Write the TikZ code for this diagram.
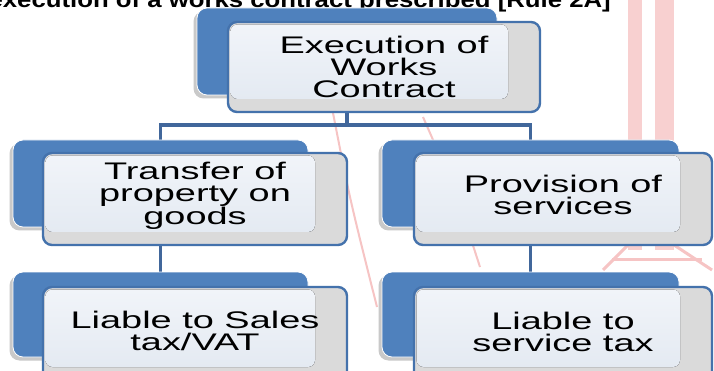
\documentclass[tikz,border=0pt]{standalone}
\usepackage{fontspec}
\setmainfont{Liberation Sans}
% wide sans faces used in the chart
\newfontfamily\boxfont[FakeStretch=1.58]{Liberation Sans}
\newfontfamily\headfont[FakeStretch=1.17]{Liberation Sans}
\usetikzlibrary{shadows}
\pgfdeclarelayer{bg}
\pgfsetlayers{bg,main}
\definecolor{backblue}{HTML}{4F81BD}
\definecolor{frontedge}{HTML}{4472AC}
\definecolor{bandgray}{HTML}{DADADA}
\definecolor{innertop}{HTML}{F1F4F9}
\definecolor{innerbot}{HTML}{E4EAF2}
\definecolor{connblue}{HTML}{41679B}
\definecolor{shadowgray}{HTML}{C9C9C9}
\definecolor{wmpink}{HTML}{F6C4C4}
\begin{document}
\begin{tikzpicture}[x=1pt,y=-1pt,
  backbox/.style={rectangle, rounded corners=10pt, fill=backblue, draw=white,
    line width=0.8pt, inner sep=0pt, outer sep=0pt,
    drop shadow={shadow xshift=-3.5pt, shadow yshift=-3.5pt, fill=shadowgray, opacity=1}},
  frontbox/.style={rectangle, rounded corners=9pt, fill=bandgray, draw=frontedge,
    line width=2.4pt, inner sep=0pt, outer sep=0pt},
  innerpanel/.style={rounded corners=7pt, top color=innertop, bottom color=innerbot},
  boxtext/.style={align=center, inner sep=0pt, text=black,
    font=\boxfont\fontsize{24}{22}\selectfont},
  conn/.style={draw=connblue, line width=3.4pt},
  wm/.style={draw=wmpink, line width=3pt}]
\useasboundingbox (0,0) rectangle (714,371);
\clip (0,0) rectangle (714,371);

% heading line, mostly cut off by the top edge
\node[anchor=base east, inner sep=0pt, font=\headfont\bfseries\fontsize{22}{22}\selectfont]
  (head) at (611,7.5) {execution of a works contract prescribed [Rule 2A]};

% back (blue) panels
\node[backbox, minimum width=300pt, minimum height=87pt] (topb) at (347,51.5) {};
\node[backbox, minimum width=295pt, minimum height=87pt] (mlb) at (160.5,183.5) {};
\node[backbox, minimum width=297pt, minimum height=87pt] (mrb) at (530.5,183.5) {};
\node[backbox, minimum width=295pt, minimum height=85pt] (blb) at (160.5,314.5) {};
\node[backbox, minimum width=297pt, minimum height=85pt] (brb) at (530.5,314.5) {};

% front (text) panels
\node[frontbox, minimum width=312pt, minimum height=90pt] (topf) at (384,67) {};
\node[frontbox, minimum width=304pt, minimum height=92pt] (mlf) at (195,199) {};
\node[frontbox, minimum width=298pt, minimum height=92pt] (mrf) at (563,199) {};
\node[frontbox, minimum width=304pt, minimum height=93pt] (blf) at (195,333.5) {};
\node[frontbox, minimum width=298pt, minimum height=93pt] (brf) at (563,333.5) {};

\foreach \f in {topf,mlf,mrf,blf,brf}{
  \fill[innerpanel] ([shift={(2.5,2.5)}]\f.north west) rectangle ([shift={(-32,-13)}]\f.south east);
}

% labels
\node[boxtext] (topt) at (topf.center) {Execution of\\Works\\Contract};
\node[boxtext] (mlt) at ([yshift=3pt]mlf.center) {Transfer of\\property on\\goods};
\node[boxtext] (mrt) at ([yshift=4pt]mrf.center) {Provision of\\services};
\node[boxtext] (blt) at ([yshift=3pt]blf.center) {Liable to Sales\\tax/VAT};
\node[boxtext] (brt) at ([yshift=2pt]brf.center) {Liable to\\service tax};

\begin{pgfonlayer}{bg}
  \fill[white] (0,0) rectangle (714,371);
  % faint seal in the background
  \fill[wmpink!80] (628,0) rectangle (642,250);
  \fill[wmpink!80] (655,0) rectangle (674,250);
  \draw[wm] (628,245) -- (603,270);
  \draw[wm] (674,245) -- (712,270);
  \draw[wm] (612,259) -- (702,259);
  \draw[wm, line width=2pt] (333,113) .. controls (350,200) .. (377,307);
  \draw[wm, line width=2pt] (423,117) .. controls (455,190) .. (480,267);
  % connectors
  \draw[conn] (topb.south) -- ++(0,30) coordinate (hub);
  \draw[conn] (mlb.north) |- (hub) -| (mrb.north);
  \draw[conn] (mlb.south) -- (blb.north);
  \draw[conn] (mrb.south) -- (brb.north);
\end{pgfonlayer}
\end{tikzpicture}
\end{document}
